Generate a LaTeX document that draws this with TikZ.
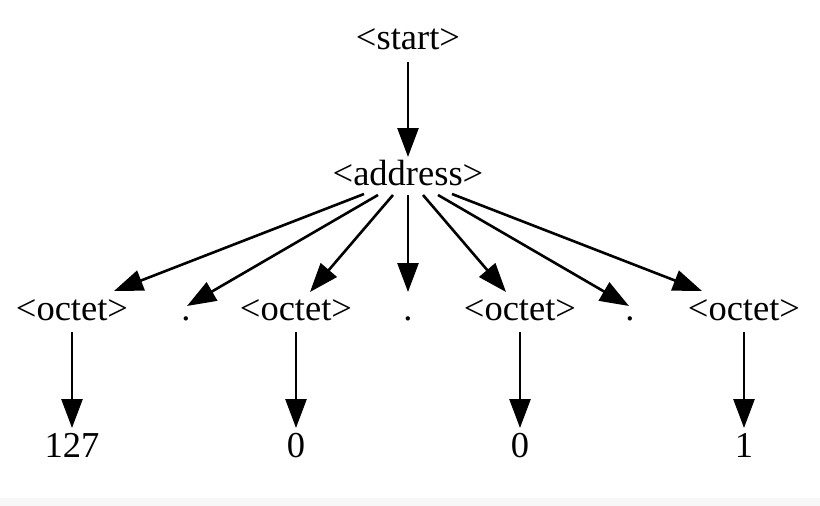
\documentclass[tikz,border=0pt]{standalone}
\usepackage{fontspec}
\setmainfont{Liberation Serif}
\usetikzlibrary{arrows.meta,calc}
\definecolor{bandgray}{RGB}{247,247,247}
\begin{document}
\begin{tikzpicture}[x=1pt,y=-1pt,
  lbl/.style={anchor=base,inner sep=0pt,font=\fontsize{36.5}{40}\selectfont},
  arr/.style={line width=2.6pt,-{Triangle[length=29pt,width=21pt]}}]
\useasboundingbox (0,0) rectangle (820,506);
\fill[bandgray] (0,498) rectangle (820,506);
% nodes
\node[lbl] (start) at (408,49) {<start>};
\node[lbl] (addr) at (408,185) {<address>};
\node[lbl] (oct1) at (72,320) {<octet>};
\node[lbl] (dot1) at (186,320) {.};
\node[lbl] (oct2) at (296,320) {<octet>};
\node[lbl] (dot2) at (408,320) {.};
\node[lbl] (oct3) at (520,320) {<octet>};
\node[lbl] (dot3) at (630,320) {.};
\node[lbl] (oct4) at (744,320) {<octet>};
\node[lbl] (n1) at (72,457) {127};
\node[lbl] (n2) at (296,457) {0};
\node[lbl] (n3) at (520,457) {0};
\node[lbl] (n4) at (744,457) {1};
% edges
\draw[arr] ($(start.base)+(0,13)$) -- ($(addr.base)+(0,-28)$);
\draw[arr] ($(addr.base)+(-44,9)$) -- ($(oct1.base)+(42,-29)$);
\draw[arr] ($(addr.base)+(-30,10)$) -- ($(dot1.base)+(1,-14)$);
\draw[arr] ($(addr.base)+(-15,10)$) -- ($(oct2.base)+(14,-28)$);
\draw[arr] ($(addr.base)+(0,10)$) -- ($(dot2.base)+(0,-28)$);
\draw[arr] ($(addr.base)+(15,10)$) -- ($(oct3.base)+(-14,-28)$);
\draw[arr] ($(addr.base)+(30,10)$) -- ($(dot3.base)+(-1,-14)$);
\draw[arr] ($(addr.base)+(44,9)$) -- ($(oct4.base)+(-42,-29)$);
\draw[arr] ($(oct1.base)+(0,12)$) -- ($(n1.base)+(0,-29)$);
\draw[arr] ($(oct2.base)+(0,12)$) -- ($(n2.base)+(0,-29)$);
\draw[arr] ($(oct3.base)+(0,12)$) -- ($(n3.base)+(0,-29)$);
\draw[arr] ($(oct4.base)+(0,12)$) -- ($(n4.base)+(0,-29)$);
\end{tikzpicture}
\end{document}
